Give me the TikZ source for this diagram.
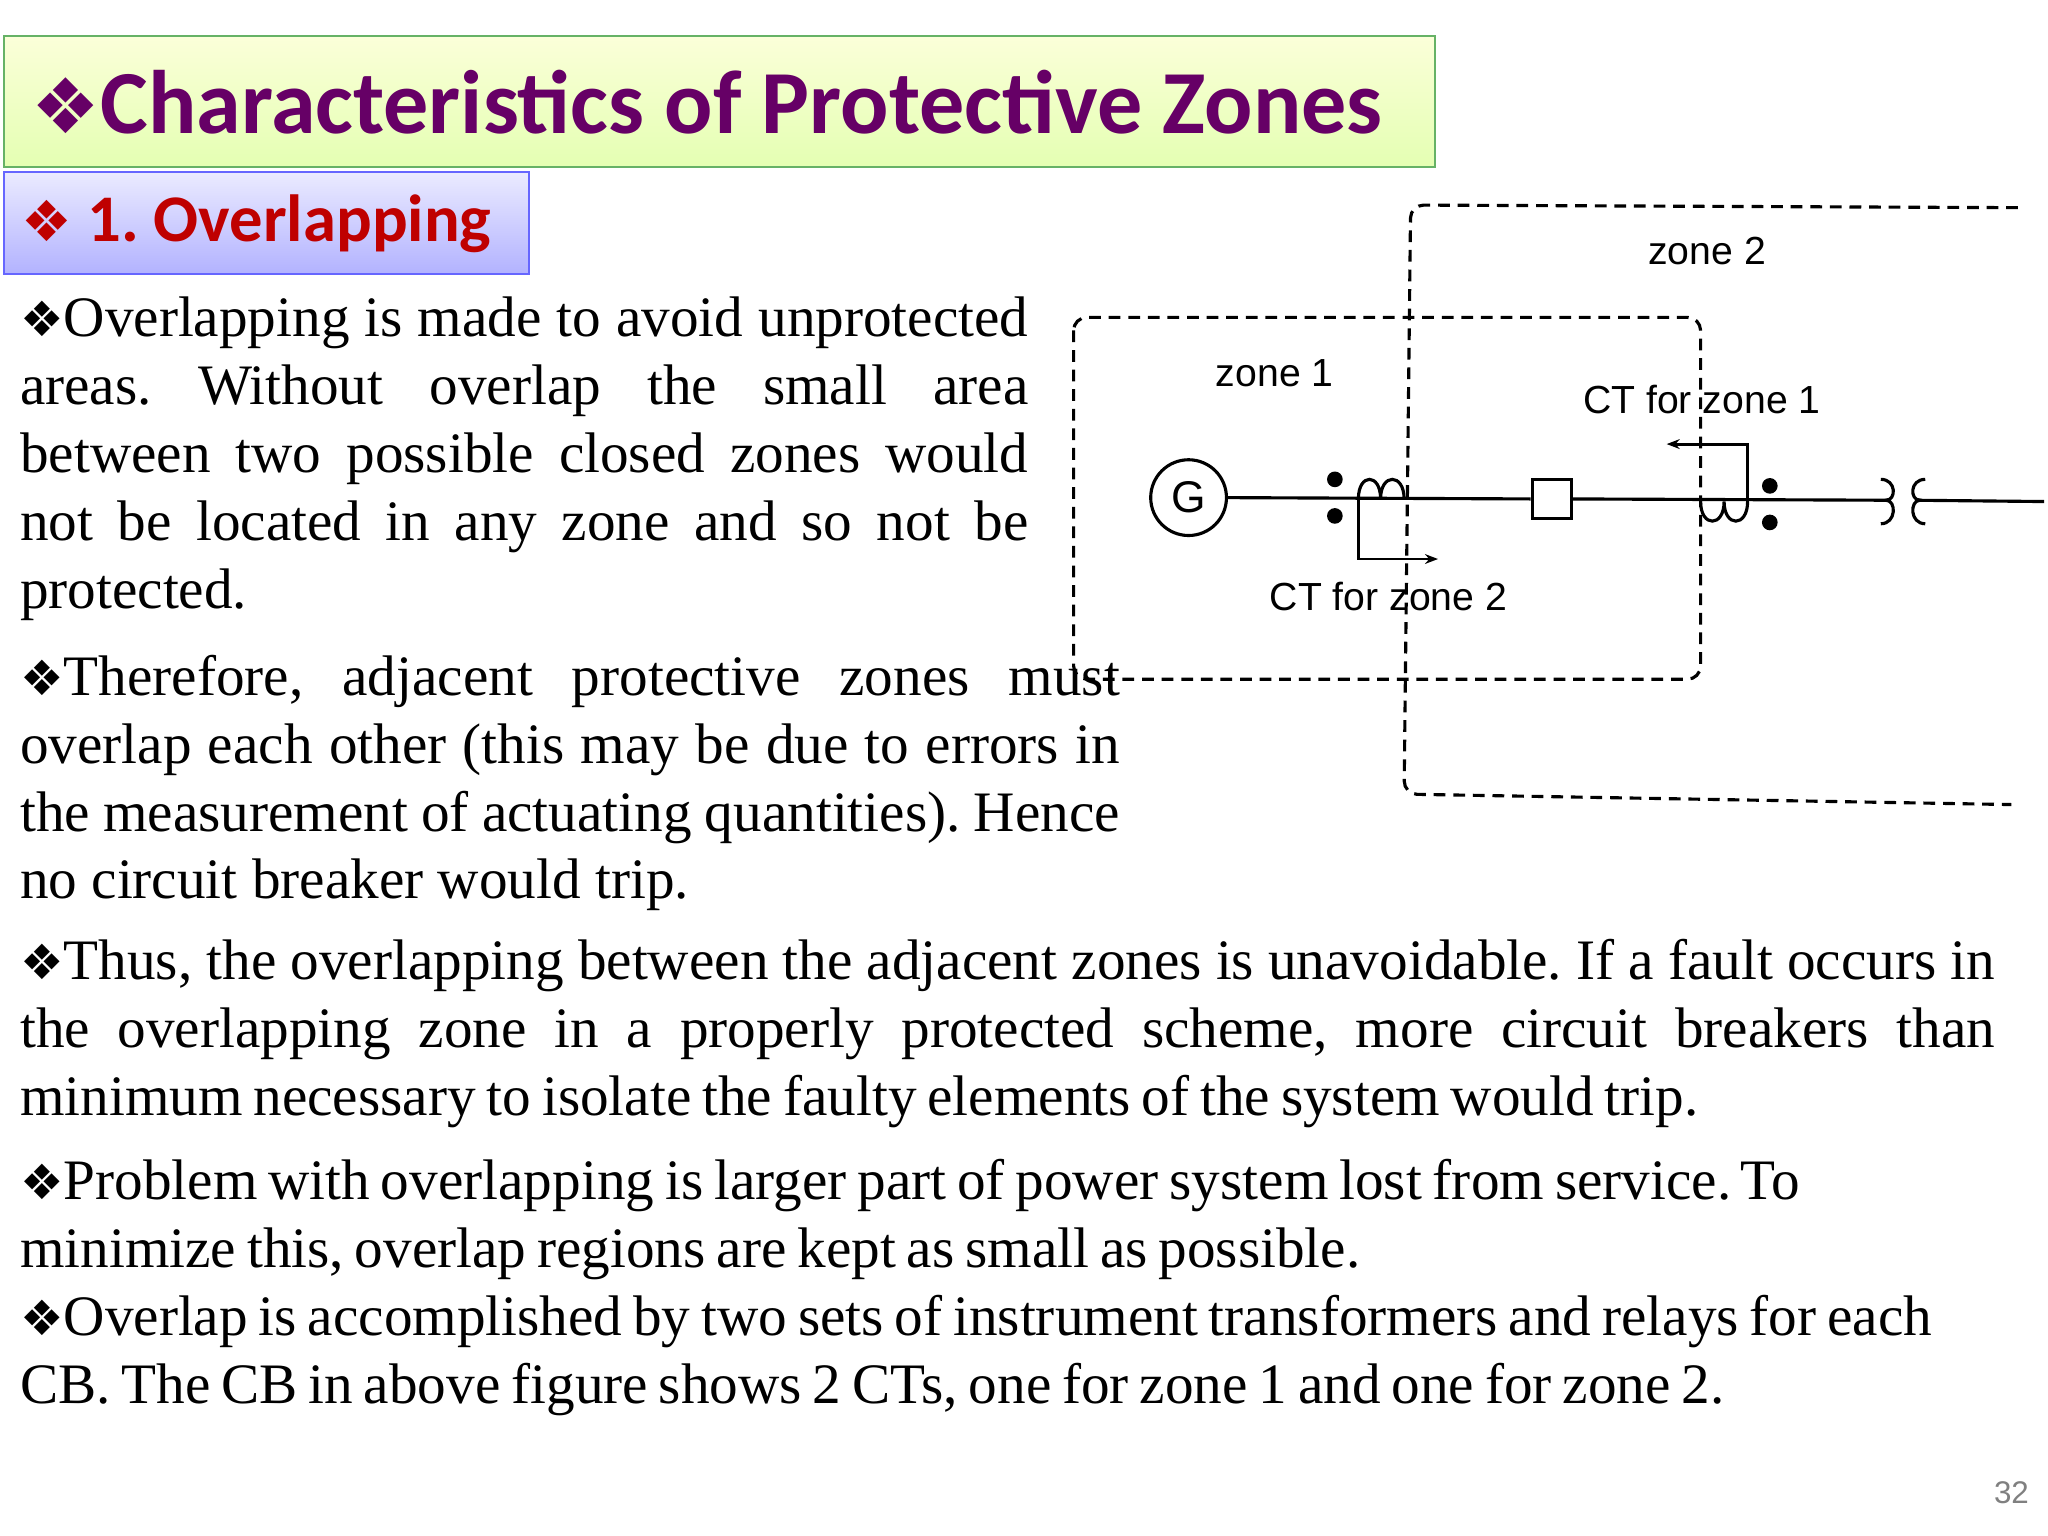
\documentclass[tikz,border=0pt]{standalone}
\usepackage{fontspec}
\usepackage{graphicx}
\setmainfont{Liberation Serif}
\newfontfamily\calfont{Carlito}
\newfontfamily\djfont{DejaVu Sans}
\newfontfamily\lsfont{Liberation Sans}
\usetikzlibrary{arrows.meta}
\newcommand{\dia}{{\djfont\scalebox{0.85}{\char"2756}}}
\newcommand{\tightsp}{\spaceskip=0.19em plus 0.2em minus 0.09em\relax}
\hyphenpenalty=10000
\exhyphenpenalty=10000
\frenchspacing
\begin{document}
\begin{tikzpicture}[x=0.5pt,y=-0.5pt,
  para/.style={anchor=north west,inner sep=0pt,align=justify,font=\fontsize{21.9}{26}\selectfont},
  zonebox/.style={draw,line width=1.2pt,dash pattern=on 4.5pt off 3pt,rounded corners=5pt},
  lbl/.style={font=\lsfont\fontsize{15}{17}\selectfont,inner sep=1pt},
  wire/.style={line width=1.2pt},
  arr/.style={line width=1.1pt,-{Stealth[length=5pt]}}]
\useasboundingbox (0,0) rectangle (1568,1176);
\fill[white] (0,0) rectangle (1568,1176);
% title
\node[draw=green!50!black!60,line width=0.8pt,top color=green!10!yellow!15,bottom color=green!35!yellow!30,minimum width=548pt,minimum height=50pt,anchor=north west,inner sep=0pt] (title) at (2,27) {};
\node[anchor=west,inner sep=0pt,font=\calfont\bfseries\fontsize{34.5}{38}\selectfont,text=violet!80!black] (tt) at (24,78) {\dia Characteristics of Protective Zones};
\node[draw=blue!60,line width=0.8pt,top color=blue!8,bottom color=blue!30,minimum width=201pt,minimum height=39pt,anchor=north west,inner sep=0pt] (sub) at (2,131) {};
\node[anchor=west,inner sep=0pt,font=\calfont\bfseries\fontsize{25.5}{28}\selectfont,text=red!75!black] (st) at (16,171) {\dia\ 1. Overlapping};
% paragraphs
\node[para,text width=386pt] (p1) at (15,227) {\dia Overlapping is made to avoid unprotected areas. Without overlap the small area between two possible closed zones would not be located in any zone and so not be protected.};
\node[para,text width=421pt] (p2) at (15,501) {\dia Therefore, adjacent protective zones must overlap each other (this may be due to errors in the measurement of actuating quantities). Hence no circuit breaker would trip.};
\node[para,text width=756pt] (p3) at (15,719) {\tightsp\dia Thus, the overlapping between the adjacent zones is unavoidable. If a fault occurs in\linebreak the overlapping zone in a properly protected scheme, more circuit breakers than\linebreak minimum necessary to isolate the faulty elements of the system would trip.};
\node[para,text width=770pt,align=left] (p4) at (15,887) {\tightsp\dia Problem with overlapping is larger part of power system lost from service.\,To\\ \tightsp minimize this, overlap regions are kept as small as possible.\\\tightsp\dia Overlap is accomplished by two sets of instrument transformers and relays for each\\ \tightsp CB. The CB in above figure shows 2 CTs, one for zone 1 and one for zone 2.};
\node[font=\lsfont\fontsize{12}{14}\selectfont,text=gray] (pg) at (1540,1143) {32};
% zones
\draw[zonebox] (1545,159) -- (1080,157) -- (1075,608) -- (1540,616);
\draw[zonebox] (822,243) rectangle (1302,520);
\node[lbl] (z2) at (1307,192) {zone 2};
\node[lbl] (z1) at (976,286) {zone 1};
\node[lbl] (ct1) at (1303,306) {CT for zone 1};
\node[lbl] (ct2) at (1063,457) {CT for zone 2};
% line
\node[draw,circle,line width=1.2pt,minimum size=29pt,inner sep=0pt,font=\lsfont\fontsize{17}{18}\selectfont] (G) at (910,381) {G};
\node[draw,line width=1.2pt,minimum width=15pt,minimum height=15pt,inner sep=0pt,fill=white] (cb) at (1188,382) {};
\coordinate (end) at (1565,384);
\draw[wire] (G.east) -- (cb.west);
\draw[wire] (cb.east) -- (1446,383);
\draw[wire] (1466,383) -- (end);
% CT2
\fill (1022,367) circle (3pt) (1022,395) circle (3pt);
\draw[wire] (1040,382) .. controls (1040,362) and (1057,362) .. (1057,382) .. controls (1057,362) and (1075,362) .. (1075,382);
\coordinate (a2) at (1101,428);
\draw[arr] (1040,382) -- (1040,428) -- (a2);
% CT1
\fill (1355,372) circle (3pt) (1355,400) circle (3pt);
\draw[wire] (1302,384) .. controls (1302,404) and (1320,404) .. (1320,384) .. controls (1320,404) and (1338,404) .. (1338,384);
\coordinate (a1) at (1276,340);
\draw[arr] (1338,384) -- (1338,340) -- (a1);
% transformer
\draw[wire] (1440,367) .. controls (1452,367) and (1452,383) .. (1444,383) .. controls (1452,383) and (1452,401) .. (1440,401);
\draw[wire] (1474,367) .. controls (1462,367) and (1462,383) .. (1470,383) .. controls (1462,383) and (1462,401) .. (1474,401);
\end{tikzpicture}
\end{document}
